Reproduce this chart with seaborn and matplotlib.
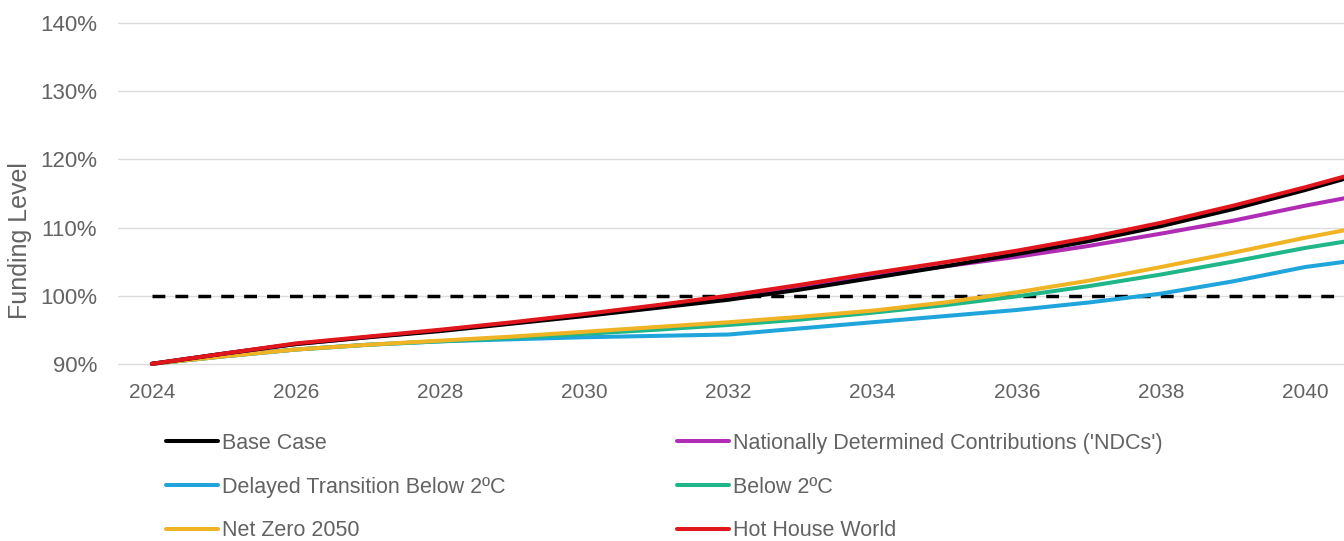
import matplotlib
matplotlib.use('Agg')
import matplotlib.pyplot as plt
import seaborn as sns
import pandas as pd

years = list(range(2024, 2042))

base_case = [90.0, 91.5, 92.9, 93.9, 94.8, 95.9, 97.0, 98.2, 99.4, 100.9, 102.6, 104.3, 106.1, 108.0, 110.2, 112.7, 115.5, 118.5]
ndcs = [90.0, 91.5, 92.9, 93.9, 94.9, 96.0, 97.2, 98.5, 99.8, 101.3, 102.9, 104.3, 105.7, 107.3, 109.1, 111.0, 113.2, 115.2]
delayed = [90.0, 91.1, 92.1, 92.8, 93.3, 93.6, 93.9, 94.1, 94.3, 95.2, 96.1, 97.0, 97.9, 99.0, 100.3, 102.1, 104.2, 105.6]
below_2c = [90.0, 91.1, 92.1, 92.8, 93.3, 93.8, 94.4, 95.0, 95.7, 96.5, 97.5, 98.6, 99.9, 101.4, 103.1, 105.0, 107.0, 108.7]
net_zero = [90.0, 91.1, 92.1, 92.8, 93.4, 94.0, 94.7, 95.4, 96.1, 96.9, 97.8, 99.0, 100.5, 102.2, 104.2, 106.3, 108.5, 110.5]
hot_house = [90.0, 91.5, 93.0, 94.0, 95.0, 96.1, 97.3, 98.6, 100.0, 101.6, 103.3, 104.9, 106.6, 108.5, 110.7, 113.2, 115.9, 118.8]

target_years = [2024, 2041]
target_level = [100, 100]

scenarios = {
    'Base Case': base_case,
    "Nationally Determined Contributions ('NDCs')": ndcs,
    'Delayed Transition Below 2ºC': delayed,
    'Below 2ºC': below_2c,
    'Net Zero 2050': net_zero,
    'Hot House World': hot_house,
}
colors = {
    'Base Case': '#000000',
    "Nationally Determined Contributions ('NDCs')": '#b02cb5',
    'Delayed Transition Below 2ºC': '#1fa5dc',
    'Below 2ºC': '#1fb689',
    'Net Zero 2050': '#f0b324',
    'Hot House World': '#e0161c',
}

rows = []
for name, vals in scenarios.items():
    for y, v in zip(years, vals):
        rows.append({'year': y, 'level': v, 'scenario': name})
df = pd.DataFrame(rows)

sns.set_style('white')
plt.rcParams['font.family'] = ['Liberation Sans', 'DejaVu Sans']

fig = plt.figure(figsize=(13.44, 5.41), dpi=100)
ax = fig.add_axes([118 / 1344, 1 - 372 / 541, 1 - 118 / 1344, (372 - 21) / 541])

# red drawn last so it sits on top, like the original
draw_order = ['Delayed Transition Below 2ºC', 'Below 2ºC', 'Net Zero 2050',
              "Nationally Determined Contributions ('NDCs')", 'Base Case', 'Hot House World']
for name in draw_order:
    sns.lineplot(data=df[df.scenario == name], x='year', y='level', color=colors[name],
                 lw=2.9, ax=ax, label=name, legend=False, zorder=3)

ax.plot(target_years, target_level, color='black', lw=2.5, dashes=(3.7, 2.9), zorder=2)

ax.set_xlim(2023.53, 2040.54)
ax.set_ylim(88.8, 140.3)
ax.set_xticks(range(2024, 2041, 2))
ax.set_yticks(range(90, 141, 10))
ax.set_yticklabels([f'{t}%' for t in range(90, 141, 10)])
ax.grid(axis='y', color='#dcdcdc', lw=1)
ax.grid(axis='x', visible=False)
for s in ax.spines.values():
    s.set_visible(False)
ax.tick_params(axis='x', labelsize=15, labelcolor='#636363', length=0, pad=8)
ax.tick_params(axis='y', labelsize=16, labelcolor='#636363', length=0, pad=15)
ax.set_xlabel('')
ax.set_ylabel('Funding Level', fontsize=18, color='#636363')
ax.yaxis.set_label_coords(-0.0705, 0.375)

handles, labels = ax.get_legend_handles_labels()
hmap = dict(zip(labels, handles))
legend_order = ['Base Case', 'Delayed Transition Below 2ºC', 'Net Zero 2050',
                "Nationally Determined Contributions ('NDCs')", 'Below 2ºC', 'Hot House World']
leg = fig.legend([hmap[n] for n in legend_order], legend_order, ncol=2,
                 loc='upper left', bbox_to_anchor=(166 / 1344, 1 - 433 / 541),
                 frameon=False, fontsize=15.5, handlelength=2.42, handletextpad=0.18,
                 columnspacing=7.98, labelspacing=1.05, borderpad=0, borderaxespad=0)
for t in leg.get_texts():
    t.set_color('#636363')

fig.savefig('out.png', dpi=100)
